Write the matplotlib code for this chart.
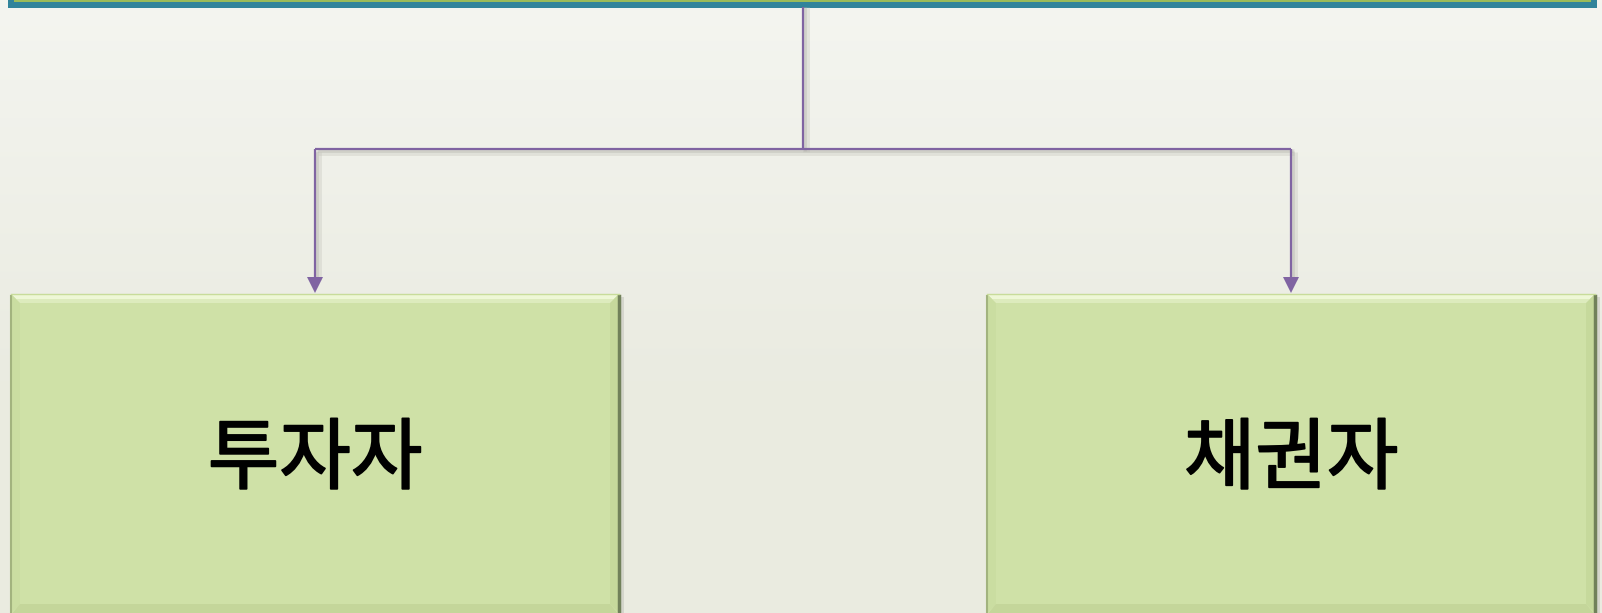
import numpy as np
import matplotlib
matplotlib.use("Agg")
import matplotlib.pyplot as plt
import matplotlib.patheffects as pe
from matplotlib.patches import Rectangle, Polygon

plt.rcParams['font.family'] = ['Noto Sans CJK KR', 'DejaVu Sans']

# ---------------------------------------------------------------------------
# Diagram content
# ---------------------------------------------------------------------------
labels = ["투자자", "채권자"]

W, H = 1602, 613
BOX_X = [11, 987]          # left edge of each child box (px)
BOX_W = 608
BOX_TOP = 294
ROOT_X = 803               # vertical connector from the parent box
BUS_Y = 149                # horizontal connector
ARROW_X = [315, 1291]
PURPLE = "#8064A2"
GREEN = "#CFE1A7"
TEAL = "#31849B"

fig = plt.figure(figsize=(W / 100, H / 100), dpi=100)
ax = fig.add_axes([0, 0, 1, 1])
ax.set_xlim(0, W)
ax.set_ylim(H, 0)
ax.axis("off")

# background: soft vertical gradient
grad = np.linspace(0, 1, 256)[:, None]
top = np.array([0.957, 0.961, 0.941])
mid = np.array([0.918, 0.922, 0.882])
bg = top + (mid - top) * np.clip(grad * 1.6, 0, 1)
ax.imshow(bg.reshape(256, 1, 3), extent=[0, W, H, 0], aspect="auto", zorder=0)

# parent box (only its bottom edge is visible)
ax.add_patch(Rectangle((8, -20), 1589, 27.5, fc=TEAL, ec="none", zorder=2))
ax.add_patch(Rectangle((14, -20), 1577, 21.5, fc="#9BBB59", ec="none", zorder=2))

# connectors with soft shadows
for dx, col, lw, a in [(3, "#c4c4bc", 5, 0.35), (2, "#b0b0a8", 2, 0.35),
                       (0, PURPLE, 1.6, 1)]:
    ax.plot([ROOT_X + dx, ROOT_X + dx], [7, BUS_Y + dx], color=col, lw=lw,
            alpha=a, zorder=3, solid_capstyle="butt")
    ax.plot([ARROW_X[0] + dx, ARROW_X[1] + dx], [BUS_Y + dx, BUS_Y + dx],
            color=col, lw=lw, alpha=a, zorder=3, solid_capstyle="butt")
    for cx in ARROW_X:
        ax.plot([cx + dx, cx + dx], [BUS_Y + dx, 280], color=col, lw=lw,
                alpha=a, zorder=3, solid_capstyle="butt")

for cx in ARROW_X:
    ax.add_patch(Polygon([[cx - 8, 277], [cx + 8, 277], [cx, 293]],
                         closed=True, fc=PURPLE, ec="none", zorder=4))

# child boxes with subtle bevel
B = 9
for x0, lab in zip(BOX_X, labels):
    h = H - BOX_TOP + 5
    x1 = x0 + BOX_W
    ax.add_patch(Rectangle((x0 + 3, BOX_TOP + 3), BOX_W + 2, h, fc="#c0c0b8",
                           ec="none", alpha=0.5, zorder=4))
    ax.add_patch(Rectangle((x0, BOX_TOP), BOX_W, h, fc=GREEN, ec="none",
                           zorder=5))
    # top highlight facet
    ax.add_patch(Polygon([[x0, BOX_TOP], [x1, BOX_TOP],
                          [x1 - B, BOX_TOP + B], [x0 + B, BOX_TOP + B]],
                         closed=True, fc="#EEF7D6", ec="none", zorder=6))
    ax.add_patch(Polygon([[x0 + 4, BOX_TOP + 5], [x1 - 4, BOX_TOP + 5],
                          [x1 - B, BOX_TOP + B], [x0 + B, BOX_TOP + B]],
                         closed=True, fc="#DDEBBD", ec="none", zorder=6))
    # side / bottom facets (very faint)
    ax.add_patch(Polygon([[x0, BOX_TOP], [x0 + B, BOX_TOP + B],
                          [x0 + B, H - B], [x0, H]],
                         closed=True, fc="#CADDA1", ec="none", zorder=6))
    ax.add_patch(Polygon([[x1, BOX_TOP], [x1 - B, BOX_TOP + B],
                          [x1 - B, H - B], [x1, H]],
                         closed=True, fc="#C6D99C", ec="none", zorder=6))
    ax.add_patch(Polygon([[x0, H + 2], [x0 + B, H - B],
                          [x1 - B, H - B], [x1, H + 2]],
                         closed=True, fc="#C4D69A", ec="none", zorder=6))
    ax.plot([x0, x0], [BOX_TOP + 2, H], color="#A2B37E", lw=1.5, zorder=7)
    ax.plot([x1, x1], [BOX_TOP + 2, H], color="#71815A", lw=2.5, zorder=7)
    ax.plot([x0, x1], [BOX_TOP, BOX_TOP], color="#C8DC9A", lw=1, zorder=7)
    ax.text(x0 + BOX_W / 2, 461, lab, ha="center", va="center",
            fontsize=56, color="black", zorder=8,
            path_effects=[pe.withStroke(linewidth=1.3, foreground="black",
                                        capstyle="round", joinstyle="round")])

fig.savefig("out.png", dpi=100)
